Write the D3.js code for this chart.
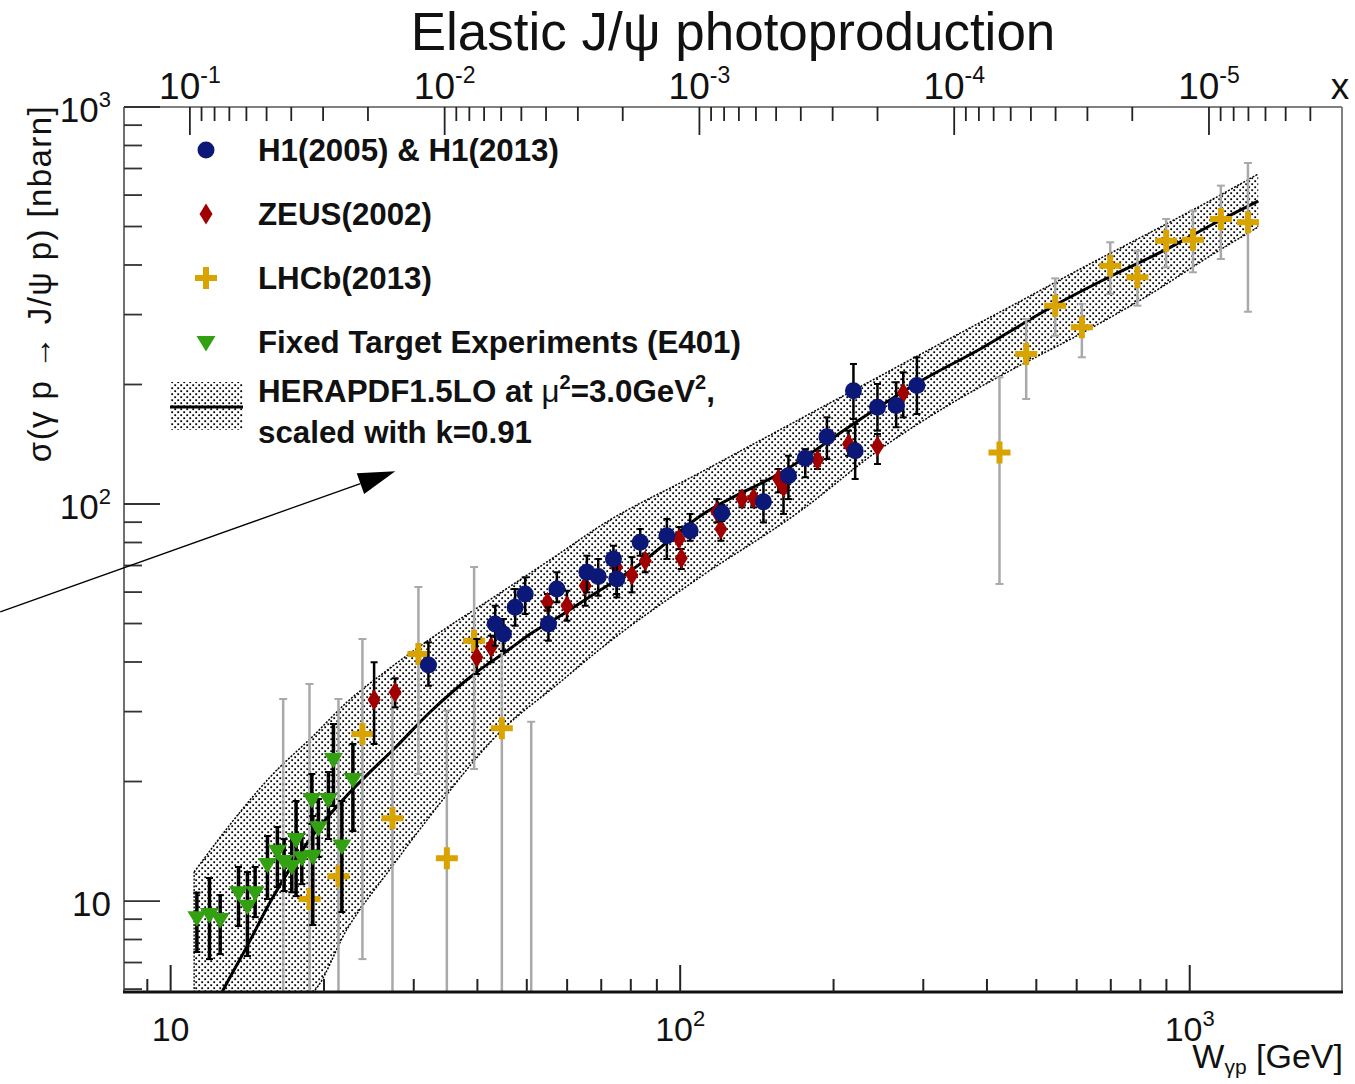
<!DOCTYPE html>
<html>
<head>
<meta charset="utf-8">
<script src="https://cdn.jsdelivr.net/npm/d3@7"></script>
<style>
  body { margin: 0; background: #fff; }
  text { font-family: "Liberation Sans", Arial, Helvetica, sans-serif; }
</style>
</head>
<body>
<svg id="svg" width="1355" height="1084"></svg>
<script>
// DATA (W in GeV, sigma in nb, error band edges lo/hi)
const h1W     = [32.06, 43.35, 44.99, 47.44, 49.64, 55.14, 57.28, 65.61, 69.05, 73.97, 75.1, 83.47, 94.17, 104.6, 120.7, 145.7, 163.1, 176.0, 194.1, 218.8, 220.5, 243.9, 265.4, 291.5];
const h1Sigma = [39.31, 49.85, 47.04, 54.93, 59.33, 49.85, 61.07, 67.3, 65.68, 72.7, 64.73, 80.09, 83.2, 85.66, 94.9, 101.3, 117.8, 130.4, 147.7, 193.0, 136.2, 175.2, 177.0, 198.9];
const h1Lo    = [34.86, 43.96, 42.63, 49.37, 52.84, 45.26, 56.55, 59.9, 58.75, 66.6, 58.2, 74.1, 72.7, 80.8, 90.6, 89.9, 102.9, 116.8, 129.8, 163.7, 115.6, 153.0, 156.1, 168.5];
const h1Hi    = [44.83, 55.44, 51.32, 61.07, 65.37, 54.93, 67.3, 74.1, 72.7, 78.5, 70.6, 86.5, 91.7, 94.4, 99.4, 114.5, 132.3, 137.5, 165.3, 225.3, 159.1, 200.6, 202.6, 234.2];

const zeusW     = [25.08, 27.58, 39.9, 42.56, 54.89, 59.95, 65.11, 75.04, 80.4, 85.38, 99.5, 100.5, 118.0, 120.2, 132.2, 139.3, 155.9, 159.5, 186.0, 214.0, 243.9, 274.0];
const zeusSigma = [32.14, 33.55, 41.11, 43.55, 56.55, 55.44, 62.26, 69.28, 66.27, 71.98, 81.63, 72.98, 95.6, 86.5, 102.9, 103.4, 115.6, 110.2, 129.1, 141.6, 139.8, 190.4];
const zeusLo    = [24.86, 30.75, 37.3, 39.94, 53.85, 50.82, 55.44, 59.33, 59.9, 67.3, 77.0, 68.6, 89.9, 80.8, 98.1, 98.1, 107.0, 94.4, 122.5, 132.3, 126.1, 165.3];
const zeusHi    = [39.94, 36.39, 45.7, 46.6, 59.33, 60.47, 67.42, 73.55, 73.5, 74.8, 87.5, 77.0, 102.9, 91.7, 108.0, 108.9, 122.5, 117.8, 136.2, 153.0, 150.1, 214.7];

const lhcbW     = [16.63, 18.73, 21.35, 23.79, 27.25, 30.64, 34.84, 39.41, 44.67, 51.01, 423.3, 477.6, 544.5, 614.2, 698.2, 789.6, 899, 1014.6, 1151, 1301];
const lhcbSigma = [4.5, 10.12, 11.54, 26.34, 16.16, 41.9, 12.81, 45.26, 27.23, 4.5, 134.9, 238.7, 315.9, 278.7, 398.4, 372.4, 460.5, 463.2, 522.4, 512.5];
const lhcbLo    = [1, 1, 1, 7.14, 1, 20.89, 1, 21.5, 1, 1, 62.9, 183.9, 265.4, 234.2, 338, 315.9, 394.7, 383.4, 414.1, 305];
const lhcbHi    = [32.27, 35.21, 32.27, 45.71, 33.61, 61.8, 30.16, 69.4, 45.71, 28.28, 208.5, 292.4, 370.2, 319.0, 456.3, 434.5, 522.4, 548, 633.8, 722.8];

const ftW     = [11.26, 11.92, 12.51, 13.59, 14.15, 14.65, 15.49, 16.20, 16.70, 17.29, 17.63, 18.09, 18.93, 19.01, 19.50, 20.40, 20.87, 21.68, 22.79];
const ftSigma = [9.10, 9.27, 9.01, 10.52, 9.73, 10.52, 12.39, 13.39, 12.61, 12.27, 14.33, 12.89, 18.07, 13.01, 15.33, 18.07, 22.79, 13.79, 20.29];
const ftLo    = [7.44, 7.14, 7.35, 8.65, 7.27, 9.11, 10.12, 10.84, 10.6, 10.52, 10.29, 11.03, 15.63, 8.70, 12.91, 14.33, 17.35, 9.38, 15.0];
const ftHi    = [10.5, 11.43, 10.35, 12.18, 11.83, 12.18, 14.58, 15.36, 14.32, 14.58, 17.86, 14.75, 20.89, 16.37, 18.07, 21.13, 27.92, 17.86, 24.86];

const theoryW     = [12.0, 12.62, 14.13, 15.68, 18.78, 22.51, 27.80, 32.31, 39.90, 45.70, 50.78, 58.96, 68.73, 80.87, 109.5, 162.2, 218.6, 291.9, 388.0, 544.5, 707.8, 887.2, 1112, 1363];
const theorySigma = [5.2, 5.90, 7.70, 9.94, 14.33, 18.82, 24.57, 29.93, 37.75, 42.63, 47.04, 52.84, 60.0, 68.6, 93.3, 122.5, 159.1, 201.7, 245.8, 317.1, 377.5, 433.9, 507.4, 579.8];

const bandW  = [11.12, 13.69, 15.68, 19.04, 22.20, 26.97, 32.31, 44.33, 58.16, 69.66, 109.5, 172.0, 246.9, 334.2, 450.4, 609.6, 825.1, 1112, 1363];
const bandHi = [11.83, 16.76, 20.53, 26.04, 31.71, 38.64, 45.71, 59.69, 75.26, 88.01, 120.0, 163.8, 210.1, 258.9, 317.1, 390.8, 478.7, 586.6, 678.2];
const bandLo = [4.0, 4.76, 5.28, 5.90, 8.50, 12.04, 16.38, 26.65, 35.61, 43.13, 65.49, 96.0, 137.5, 176.6, 218.8, 268.0, 334.1, 426.3, 498.6];

// annotation arrow (W, sigma)
const arrowFrom = [4.63, 53.5];
const arrowTo = [27.6, 121];

const xDomain = [8.1, 1990];
const yDomain = [5.9, 1000];
const xFactor = 11.9; // top axis: x = xFactor / W^2
const xTicksBottom = [10, 100, 1000];
const yTicksLeft = [10, 100, 1000];
const xTicksTop = [1e-1, 1e-2, 1e-3, 1e-4, 1e-5];

const legendItems = [
  { label: "H1(2005) & H1(2013)", kind: "h1" },
  { label: "ZEUS(2002)", kind: "zeus" },
  { label: "LHCb(2013)", kind: "lhcb" },
  { label: "Fixed Target Experiments (E401)", kind: "ft" }
];

// COLOURS
const cH1 = "#0b1878", cZeus = "#a00000", cLhcb = "#d9a300", cFt = "#33a012", cLhcbErr = "#a9a9a9";

// SCALES
const L = 124, R = 1342, T = 107, B = 992;
const x = d3.scaleLog().domain(xDomain).range([L, R]);
const y = d3.scaleLog().domain(yDomain).range([B, T]);
const xTop = d3.scaleLog().domain(xDomain.map(w => xFactor / (w * w))).range([L, R]);

const svg = d3.select("#svg");
const defs = svg.append("defs");
defs.append("clipPath").attr("id", "clip")
  .append("rect").attr("x", L).attr("y", T).attr("width", R - L).attr("height", B - T);
const pat = defs.append("pattern").attr("id", "dots")
  .attr("width", 6).attr("height", 6).attr("patternUnits", "userSpaceOnUse");
pat.append("rect").attr("x", 0.3).attr("y", 0.3).attr("width", 1.8).attr("height", 1.8).attr("fill", "#000");
pat.append("rect").attr("x", 3.3).attr("y", 3.3).attr("width", 1.8).attr("height", 1.8).attr("fill", "#000");

// marker shapes
const shapes = {
  h1: g => g.append("circle").attr("r", 8.5).attr("fill", cH1),
  zeus: g => g.append("path").attr("d", "M0,-10.5L6.5,0L0,10.5L-6.5,0Z").attr("fill", cZeus),
  lhcb: g => g.append("path").attr("d", "M-3,-11H3V-3H11V3H3V11H-3V3H-11V-3H-3Z").attr("fill", cLhcb),
  ft: g => g.append("path").attr("d", "M-9.5,-6L9.5,-6L0,9.5Z").attr("fill", cFt)
};

function series(Ws, S, Lo, Hi, kind, errColor, errWidth, cap) {
  const g = plot.append("g");
  const pts = Ws.map((w, i) => ({ w, s: S[i], lo: Lo[i], hi: Hi[i] }));
  const e = g.append("g").attr("stroke", errColor).attr("stroke-width", errWidth);
  e.selectAll("line.v").data(pts).join("line").attr("class", "v")
    .attr("x1", d => x(d.w)).attr("x2", d => x(d.w))
    .attr("y1", d => y(d.lo)).attr("y2", d => y(d.hi));
  e.selectAll("line.c1").data(pts).join("line").attr("class", "c1")
    .attr("stroke-width", 2)
    .attr("x1", d => x(d.w) - cap).attr("x2", d => x(d.w) + cap)
    .attr("y1", d => y(d.hi)).attr("y2", d => y(d.hi));
  e.selectAll("line.c2").data(pts).join("line").attr("class", "c2")
    .attr("stroke-width", 2)
    .attr("x1", d => x(d.w) - cap).attr("x2", d => x(d.w) + cap)
    .attr("y1", d => y(d.lo)).attr("y2", d => y(d.lo));
  g.selectAll("g.m").data(pts).join("g").attr("class", "m")
    .attr("transform", d => `translate(${x(d.w)},${y(d.s)})`)
    .each(function () { shapes[kind](d3.select(this)); });
}

const plot = svg.append("g").attr("clip-path", "url(#clip)");

// band
const band = bandW.map((w, i) => ({ w, lo: bandLo[i], hi: bandHi[i] }));
const area = d3.area().x(d => x(d.w)).y0(d => y(d.lo)).y1(d => y(d.hi)).curve(d3.curveMonotoneX);
plot.append("path").datum(band).attr("d", area).attr("fill", "url(#dots)");
const edge = acc => d3.line().x(d => x(d.w)).y(d => y(acc(d))).curve(d3.curveMonotoneX);
[d => d.lo, d => d.hi].forEach(acc => {
  plot.append("path").datum(band).attr("d", edge(acc)).attr("fill", "none")
    .attr("stroke", "#000").attr("stroke-width", 1.5).attr("stroke-dasharray", "2,1.5");
});
plot.append("line")
  .attr("x1", x(band[0].w)).attr("x2", x(band[0].w))
  .attr("y1", y(band[0].lo)).attr("y2", y(band[0].hi))
  .attr("stroke", "#000").attr("stroke-width", 1.3).attr("stroke-dasharray", "2,1.5");

// central curve
const theory = theoryW.map((w, i) => ({ w, s: theorySigma[i] }));
plot.append("path").datum(theory)
  .attr("d", d3.line().x(d => x(d.w)).y(d => y(d.s)).curve(d3.curveMonotoneX))
  .attr("fill", "none").attr("stroke", "#000").attr("stroke-width", 3);

// data
series(lhcbW, lhcbSigma, lhcbLo, lhcbHi, "lhcb", cLhcbErr, 2.5, 4);
series(ftW, ftSigma, ftLo, ftHi, "ft", "#000", 3.5, 3.5);
series(zeusW, zeusSigma, zeusLo, zeusHi, "zeus", "#000", 2.5, 3.5);
series(h1W, h1Sigma, h1Lo, h1Hi, "h1", "#000", 2.5, 3.5);

// FRAME
svg.append("line").attr("x1", L).attr("x2", R).attr("y1", T).attr("y2", T).attr("stroke", "#808080").attr("stroke-width", 2);
svg.append("line").attr("x1", R).attr("x2", R).attr("y1", T).attr("y2", B).attr("stroke", "#808080").attr("stroke-width", 2);
svg.append("line").attr("x1", L).attr("x2", L).attr("y1", T).attr("y2", B).attr("stroke", "#707070").attr("stroke-width", 2);
svg.append("line").attr("x1", L - 1).attr("x2", R + 1).attr("y1", B).attr("y2", B).attr("stroke", "#111").attr("stroke-width", 3);

const isMajor = v => Math.abs(Math.log10(v) - Math.round(Math.log10(v))) < 1e-6;

// bottom ticks
svg.append("g").selectAll("line").data(x.ticks()).join("line")
  .attr("x1", d => x(d)).attr("x2", d => x(d))
  .attr("y1", B).attr("y2", d => B - (isMajor(d) ? 27 : 13))
  .attr("stroke", "#222").attr("stroke-width", 2);
// top ticks
svg.append("g").selectAll("line").data(xTop.ticks()).join("line")
  .attr("x1", d => xTop(d)).attr("x2", d => xTop(d))
  .attr("y1", T).attr("y2", d => T + (isMajor(d) ? 28 : 14))
  .attr("stroke", "#222").attr("stroke-width", 1.8);
// left ticks
svg.append("g").selectAll("line").data(y.ticks()).join("line")
  .attr("x1", L).attr("x2", d => L + (isMajor(d) ? 36 : 18))
  .attr("y1", d => y(d)).attr("y2", d => y(d))
  .attr("stroke", "#333").attr("stroke-width", 1.8);

function powLabel(g, v, size, supSize, supDy) {
  const e = Math.round(Math.log10(v));
  const t = g.append("text").attr("font-size", size).attr("fill", "#111");
  t.append("tspan").text("10");
  if (e !== 1) t.append("tspan").attr("font-size", supSize).attr("dy", supDy).text(e);
  return t;
}

xTicksBottom.forEach(v => {
  powLabel(svg, v, 34, 22, -15).attr("x", x(v)).attr("y", 1041).attr("text-anchor", "middle");
});
yTicksLeft.forEach(v => {
  powLabel(svg, v, 35, 22, -15).attr("x", 111).attr("y", y(v) + 15).attr("text-anchor", "end");
});
xTicksTop.forEach(v => {
  powLabel(svg, v, 37, 23, -16).attr("x", xTop(v)).attr("y", 99).attr("text-anchor", "middle");
});

svg.append("text").attr("x", 1340).attr("y", 99).attr("text-anchor", "middle")
  .attr("font-size", 37).attr("fill", "#111").text("x");

// axis titles
const xt = svg.append("text").attr("x", R + 1).attr("y", 1068).attr("text-anchor", "end")
  .attr("font-size", 34).attr("fill", "#111");
xt.append("tspan").text("W");
xt.append("tspan").attr("font-size", 21).attr("dy", 6).text("γp");
xt.append("tspan").attr("dy", -6).text(" [GeV]");

svg.append("text").attr("transform", "translate(51,105) rotate(-90)")
  .attr("text-anchor", "end").attr("font-size", 33).attr("letter-spacing", 1.4).attr("fill", "#111")
  .text("σ(γ p → J/ψ p) [nbarn]");

// title
svg.append("text").attr("x", 733).attr("y", 50).attr("text-anchor", "middle")
  .attr("font-size", 53).attr("fill", "#111").text("Elastic J/ψ photoproduction");

// LEGEND
const leg = svg.append("g");
legendItems.forEach((it, i) => {
  const yy = 150 + i * 64;
  shapes[it.kind](leg.append("g").attr("transform", `translate(206,${yy})`));
  leg.append("text").attr("x", 258).attr("y", yy + 11).attr("font-size", 31.3)
    .attr("font-weight", "bold").attr("fill", "#111").text(it.label);
});
leg.append("rect").attr("x", 170).attr("y", 382).attr("width", 73).attr("height", 48).attr("fill", "url(#dots)");
leg.append("line").attr("x1", 170).attr("x2", 243).attr("y1", 407).attr("y2", 407)
  .attr("stroke", "#000").attr("stroke-width", 3);
const lt = leg.append("text").attr("x", 258).attr("y", 402).attr("font-size", 31.3)
  .attr("font-weight", "bold").attr("fill", "#111");
lt.append("tspan").text("HERAPDF1.5LO at ");
lt.append("tspan").attr("font-weight", "normal").text("μ");
lt.append("tspan").attr("font-size", 20).attr("dy", -13).text("2");
lt.append("tspan").attr("dy", 13).text("=3.0GeV");
lt.append("tspan").attr("font-size", 20).attr("dy", -13).text("2");
lt.append("tspan").attr("dy", 13).text(",");
leg.append("text").attr("x", 258).attr("y", 443).attr("font-size", 31.3)
  .attr("font-weight", "bold").attr("fill", "#111").text("scaled with k=0.91");

// ARROW
const ax0 = x(arrowFrom[0]), ay0 = y(arrowFrom[1]);
const ax1 = x(arrowTo[0]), ay1 = y(arrowTo[1]);
const ang = Math.atan2(ay1 - ay0, ax1 - ax0);
const hl = 37, hw = 11;
const bx = ax1 - hl * Math.cos(ang), by = ay1 - hl * Math.sin(ang);
svg.append("line").attr("x1", ax0).attr("y1", ay0).attr("x2", bx).attr("y2", by)
  .attr("stroke", "#000").attr("stroke-width", 1.3);
svg.append("path").attr("fill", "#000").attr("d",
  `M${ax1},${ay1}L${bx - hw * Math.sin(ang)},${by + hw * Math.cos(ang)}L${bx + hw * Math.sin(ang)},${by - hw * Math.cos(ang)}Z`);
</script>
</body>
</html>
